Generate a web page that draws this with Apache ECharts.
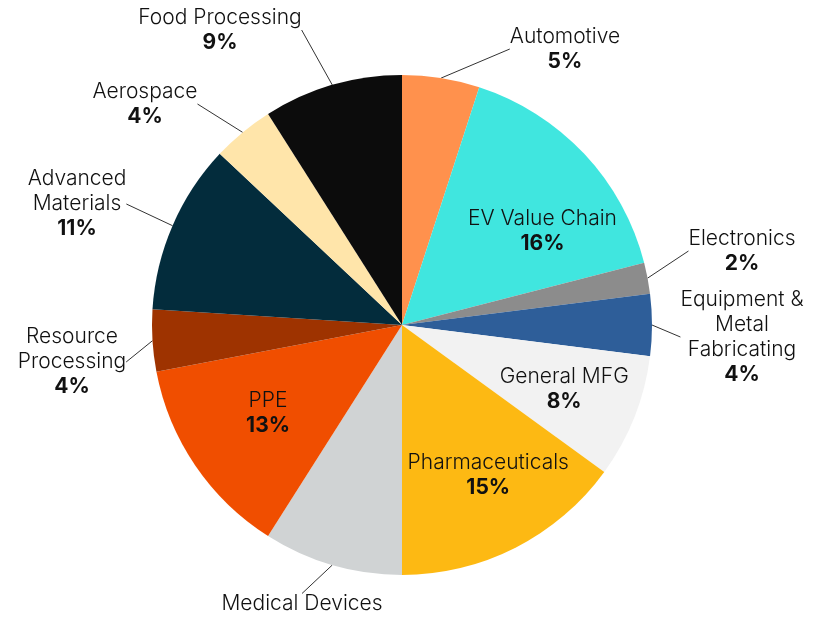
<!DOCTYPE html>
<html>
<head>
<meta charset="utf-8">
<script src="https://cdn.jsdelivr.net/npm/echarts@6/dist/echarts.min.js"></script>
<style>
  html, body { margin: 0; padding: 0; background: #fff; }
  #chart { width: 813px; height: 618px; }
</style>
</head>
<body>
<div id="chart"></div>
<script>
// clockwise from 12 o'clock
const sectors = ['Automotive', 'EV Value Chain', 'Electronics', 'Equipment &\nMetal\nFabricating', 'General MFG',
  'Pharmaceuticals', 'Medical Devices', 'PPE', 'Resource\nProcessing', 'Advanced\nMaterials', 'Aerospace', 'Food Processing']
const shares = [5, 16, 2, 4, 8, 15, 9, 13, 4, 11, 4, 9]
const sliceColors = ['#ff914d', '#40e6df', '#8c8c8c', '#2e5e99', '#f2f2f2', '#fdb913', '#d0d3d4', '#f04e00', '#9e3300', '#032c3c', '#ffe5aa', '#0c0c0c']
const insideNames = ['EV Value Chain', 'General MFG', 'Pharmaceuticals', 'PPE']
const noPercent = ['Medical Devices']

// where the outside labels sit (centre of the text block)
const labelSpots = {
  'Automotive': [565, 49],
  'Electronics': [742, 251],
  'Equipment &\nMetal\nFabricating': [742, 337],
  'Medical Devices': [302, 604],
  'Resource\nProcessing': [72, 362],
  'Advanced\nMaterials': [77, 204],
  'Aerospace': [145, 104],
  'Food Processing': [220, 30]
}
// small nudges for the labels drawn inside the slices
const insideNudge = {
  'EV Value Chain': [18, 21],
  'General MFG': [6, 2],
  'Pharmaceuticals': [10, 0],
  'PPE': [5, -6]
}

const fontFamily = 'Inter'
const richText = {
  n: { fontFamily: fontFamily, fontSize: 21, fontWeight: 300, color: '#111', lineHeight: 25, align: 'center' },
  p: { fontFamily: fontFamily, fontSize: 21, fontWeight: 'bold', color: '#111', lineHeight: 25, align: 'center' }
}
function labelText(params) {
  if (noPercent.includes(params.name)) return '{n|' + params.name + '}'
  return '{n|' + params.name + '}\n{p|' + Math.round(params.percent) + '%}'
}

const pieData = sectors.map((name, i) => {
  const inside = insideNames.includes(name)
  return {
    name: name,
    value: shares[i],
    itemStyle: { color: sliceColors[i] },
    label: { show: !inside },
    labelLine: { show: !inside }
  }
})
const overlayData = sectors.map((name, i) => ({
  name: name,
  value: shares[i],
  label: { show: insideNames.includes(name) }
}))

const chart = echarts.init(document.getElementById('chart'))
chart.setOption({
  backgroundColor: '#fff',
  animation: false,
  series: [
    {
      type: 'pie',
      center: [402, 325],
      radius: [0, 250],
      startAngle: 90,
      clockwise: true,
      avoidLabelOverlap: false,
      itemStyle: { borderWidth: 0 },
      label: {
        position: 'outside',
        formatter: labelText,
        rich: richText
      },
      labelLine: {
        show: true,
        length: 20,
        length2: 0,
        lineStyle: { color: '#333', width: 1 }
      },
      labelLayout: function (params) {
        const spot = labelSpots[sectors[params.dataIndex]]
        if (!spot) return {}
        return { x: spot[0], y: spot[1], align: 'center', verticalAlign: 'middle' }
      },
      data: pieData
    },
    {
      // transparent ring so the inside labels sit further out than half radius
      type: 'pie',
      silent: true,
      center: [402, 325],
      radius: [80, 250],
      startAngle: 90,
      clockwise: true,
      itemStyle: { color: 'transparent' },
      label: {
        position: 'inside',
        formatter: labelText,
        rich: richText
      },
      labelLine: { show: false },
      labelLayout: function (params) {
        const nudge = insideNudge[sectors[params.dataIndex]]
        if (!nudge) return {}
        return { dx: nudge[0], dy: nudge[1] }
      },
      data: overlayData
    }
  ]
})
</script>
</body>
</html>
